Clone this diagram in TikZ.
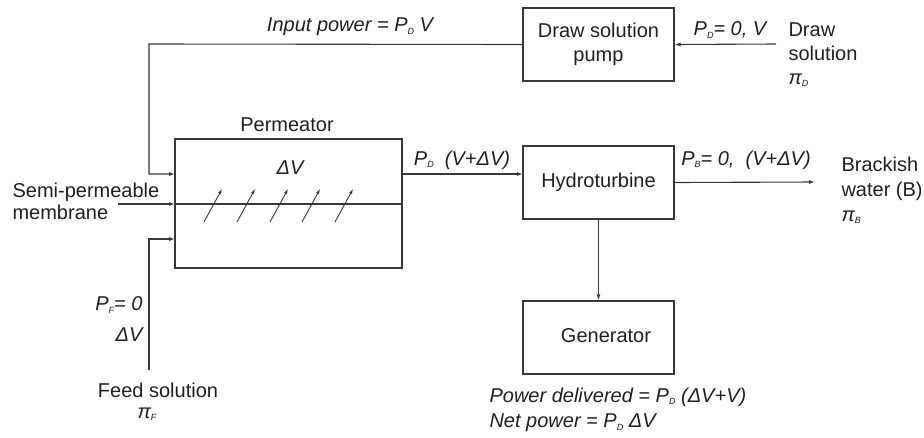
\documentclass[tikz,border=0pt]{standalone}
\usepackage{fontspec}
\setmainfont{Liberation Sans}
\usetikzlibrary{arrows.meta}
\newcommand\sbs[1]{\raisebox{-2.5pt}{\fontsize{9}{9}\selectfont\itshape #1}}
\begin{document}
\begin{tikzpicture}[x=1pt,y=-1pt,
  line width=1.1pt, draw=black!78,
  every node/.style={font=\fontsize{20}{24}\selectfont, text=black!88},
  box/.style={draw=black!78, line width=1.1pt, minimum width=151pt, minimum height=73pt, inner sep=0pt},
  lbl/.style={inner sep=0pt},
  arr/.style={-{Latex[length=6pt,width=4pt]}, draw=black!78},
  sarr/.style={-{Latex[length=5pt,width=3.5pt]}, draw=black!78, line width=0.9pt}]
\useasboundingbox (0,0) rectangle (924,437);
% boxes
\node[box, minimum width=227pt, minimum height=129pt] (perm) at (288.5,203.5) {};
\node[box] (pump) at (598.5,44.5) {};
\node[box] (hydro) at (598.5,182.5) {};
\node[box] (gen) at (598.5,337.5) {};
% box texts
\node[lbl, align=center] (pumpt) at (598.5,44) {Draw solution\\pump};
\node[lbl] (hydrot) at (598.5,182) {Hydroturbine};
\node[lbl] (gent) at (606,336) {Generator};
\node[lbl] (permt) at (287,125) {Permeator};
\node[lbl] (dv) at (290,168) {\itshape ΔV};
% coordinates
\coordinate (inTop) at (149,44);
\coordinate (inEnd) at (175,174);
\coordinate (dsin) at (776,44);
\coordinate (memA) at (118,204);
\coordinate (memB) at (175,204);
\coordinate (memC) at (402,204);
\coordinate (feedA) at (149,370);
\coordinate (feedEnd) at (175,239);
\coordinate (pOut) at (402,174);
\coordinate (hIn) at (523,174);
\coordinate (bOut) at (815,182);
% connectors
\draw[arr] (pump.west) -- (inTop) |- (inEnd);
\draw[arr] (dsin) -- (pump.east);
\draw[arr] (memA) -- (memB);
\draw (memB) -- (memC);
\draw[arr] (feedA) |- (feedEnd);
\draw[arr] (pOut) -- (hIn);
\draw[arr] (hydro.east) -- (bOut);
\draw[arr] (hydro.south) -- (gen.north);
% membrane arrows
\foreach \i/\x in {1/204,2/237,3/270,4/302,5/335}{
  \coordinate (ma\i) at (\x,222);
  \coordinate (mb\i) at (\x+18,189);
  \draw[sarr] (ma\i) -- (mb\i);
}
% labels
\node[lbl] (inpow) at (350,27) {\itshape Input power = P\sbs{D} V};
\node[lbl] (pd0) at (730,30) {\itshape P\sbs{D}= 0, V};
\node[lbl, anchor=north west, align=left, font=\fontsize{20}{24}\selectfont] (dsol) at (788,22) {Draw\\solution\\\itshape π\sbs{D}};
\node[lbl, anchor=north west, align=left, font=\fontsize{20}{22.5}\selectfont] (semi) at (12,182) {Semi-permeable\\membrane};
\node[lbl] (pdv) at (462,160) {\itshape P\sbs{D}\ \ (V+ΔV)};
\node[lbl] (pb0) at (746,160) {\itshape P\sbs{B}= 0,\ \ (V+ΔV)};
\node[lbl, anchor=north west, align=left, font=\fontsize{20}{25}\selectfont] (brack) at (841,156) {Brackish\\water (B)\\\itshape π\sbs{B}};
\node[lbl, anchor=west] (powdel) at (489,397) {\itshape Power delivered = P\sbs{D} (ΔV+V)};
\node[lbl, anchor=west] (netpow) at (489,423) {\itshape Net power = P\sbs{D} ΔV};
\node[lbl, anchor=east] (pf0) at (143,305) {\itshape P\sbs{F}= 0};
\node[lbl, anchor=east] (fdv) at (143,335) {\itshape ΔV};
\node[lbl] (feed) at (158,390) {Feed solution};
\node[lbl] (pif) at (147,414) {\itshape π\sbs{F}};
\end{tikzpicture}
\end{document}
